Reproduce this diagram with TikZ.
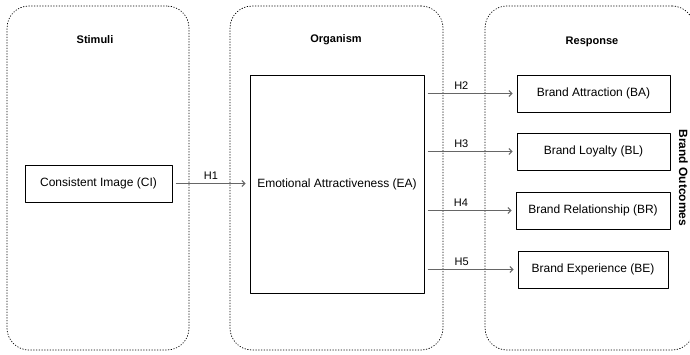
\documentclass[tikz,border=0pt]{standalone}
\usepackage{fontspec}
\setmainfont{Liberation Sans}
\usetikzlibrary{arrows.meta}

\tikzset{
    panel/.style={draw=black, dotted, line width=0.75pt, rounded corners=22pt},
    title/.style={font=\bfseries\fontsize{11}{13}\selectfont},
    factor/.style={draw=black, line width=0.8pt, font=\fontsize{12}{14}\selectfont},
    hyp/.style={draw=black!60, line width=1pt, ->, shorten <=4pt, shorten >=4pt},
    hlabel/.style={font=\fontsize{11}{13}\selectfont, above=2.5pt, inner sep=1pt}
}

\begin{document}
\begin{tikzpicture}[line cap=round,line join=round,>={Straight Barb[length=3pt,width=6pt]},x=1pt,y=1pt]
    \clip(0,0) rectangle (690,354);

    % Panels
    \draw(98,176) node[panel, minimum width=182pt, minimum height=344pt] (stimuli) {};
    \draw(336.5,176) node[panel, minimum width=213pt, minimum height=344pt] (organism) {};
    \draw(589.5,176) node[panel, minimum width=209pt, minimum height=344pt] (response) {};

    % Panel titles
    \draw(95,314) node[title] (tstimuli) {Stimuli};
    \draw(336,314) node[title] (torganism) {Organism};
    \draw(592,312) node[title] (tresponse) {Response};
    \draw(683.5,176) node[title, rotate=-90, font=\bfseries\fontsize{12}{14}\selectfont] (outcomes) {Brand Outcomes};

    % Boxes
    \draw(98.5,170.5) node[factor, minimum width=147pt, minimum height=37pt] (CI) {Consistent Image (CI)};
    \draw(337,170) node[factor, minimum width=174pt, minimum height=218pt] (EA) {Emotional Attractiveness (EA)};
    \draw(593.5,260.5) node[factor, minimum width=153pt, minimum height=37pt] (BA) {Brand Attraction (BA)};
    \draw(593.5,202.5) node[factor, minimum width=153pt, minimum height=37pt] (BL) {Brand Loyalty (BL)};
    \draw(593,143.5) node[factor, minimum width=154pt, minimum height=37pt] (BR) {Brand Relationship (BR)};
    \draw(593,84.5) node[factor, minimum width=150pt, minimum height=37pt] (BE) {Brand Experience (BE)};

    % Hypotheses
    \draw[hyp] (CI.east) -- (CI.east -| EA.west) node[hlabel, midway] {H1};
    \foreach \target/\hname in {BA/H2, BL/H3, BR/H4, BE/H5} {
            \draw[hyp] (EA.east |- \target.west) -- (\target.west) node[hlabel, pos=0.4] {\hname};
        }
\end{tikzpicture}
\end{document}
